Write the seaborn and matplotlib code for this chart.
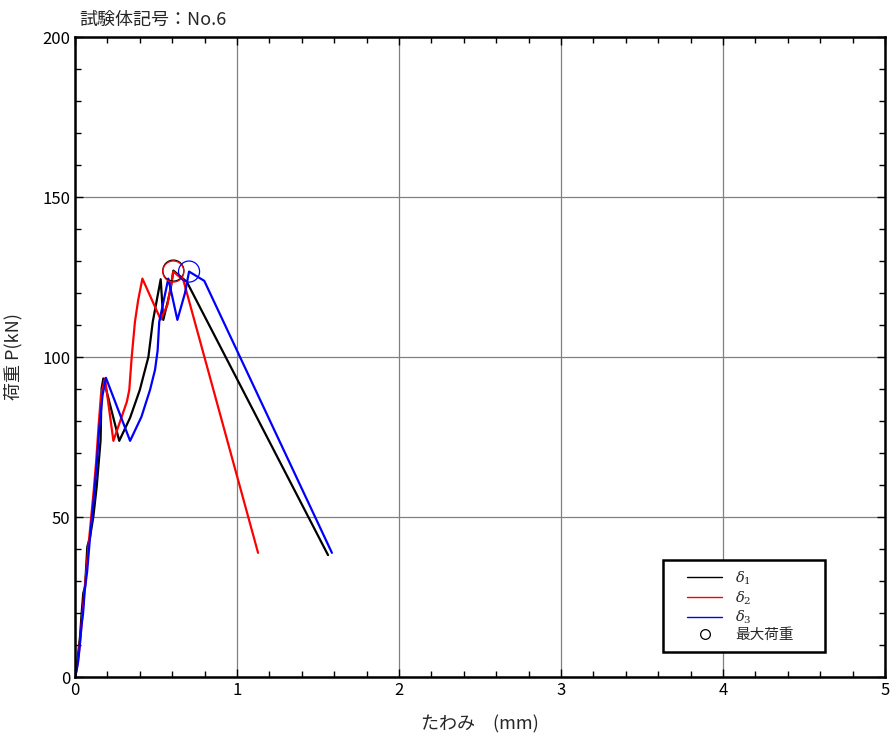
import matplotlib
matplotlib.use("Agg")
import matplotlib.pyplot as plt
from matplotlib.lines import Line2D
from matplotlib.patches import Rectangle
from matplotlib.ticker import MultipleLocator
import seaborn as sns
import pandas as pd

# ---- data ----
d1_x = [0.0, 0.01, 0.02, 0.031, 0.041, 0.051, 0.062, 0.076, 0.093, 0.113, 0.134, 0.158, 0.164, 0.175,
        0.273, 0.34, 0.40, 0.453, 0.48, 0.529, 0.545, 0.59, 0.607, 0.69, 1.562]
d1_y = [0.0, 3.2, 7.5, 12.6, 20.0, 26.2, 28.2, 40.7, 43.8, 50.0, 59.5, 74.0, 90.2, 93.3,
        73.8, 81.0, 89.7, 100.0, 111.0, 124.3, 111.6, 121.0, 127.0, 123.5, 38.1]

d2_x = [0.0, 0.012, 0.025, 0.04, 0.05, 0.06, 0.07, 0.085, 0.10, 0.115, 0.13, 0.145, 0.16, 0.185,
        0.237, 0.32, 0.335, 0.35, 0.37, 0.39, 0.416, 0.529, 0.57, 0.607, 0.669, 1.13]
d2_y = [0.0, 3.0, 8.0, 16.0, 22.0, 28.0, 33.0, 42.0, 50.0, 58.0, 67.0, 78.0, 88.0, 93.3,
        73.8, 86.0, 89.7, 100.0, 111.0, 117.8, 124.5, 111.7, 116.2, 126.7, 124.0, 38.8]

d3_x = [0.0, 0.01, 0.02, 0.03, 0.04, 0.05, 0.06, 0.075, 0.09, 0.105, 0.12, 0.135, 0.15, 0.17, 0.191,
        0.34, 0.41, 0.463, 0.494, 0.51, 0.52, 0.576, 0.632, 0.679, 0.704, 0.798, 1.586]
d3_y = [0.0, 2.0, 5.0, 10.0, 16.0, 20.0, 27.0, 33.0, 42.0, 50.0, 58.0, 67.0, 78.0, 88.0, 93.5,
        73.8, 81.3, 89.7, 96.0, 102.0, 111.0, 124.5, 111.6, 120.0, 126.7, 123.8, 38.8]

series_names = ["δ1", "δ2", "δ3"]
series_colors = ["black", "red", "blue"]
legend_labels = [r"$\delta_{1}$", r"$\delta_{2}$", r"$\delta_{3}$", "最大荷重"]
title_text = "試験体記号：No.6"
xlabel_text = "たわみ　(mm)"
ylabel_text = "荷重 P(kN)"
x_ticks = [0, 1, 2, 3, 4, 5]
y_ticks = [0, 50, 100, 150, 200]

# ---- build tables ----
frames = []
for name, xs, ys in zip(series_names, [d1_x, d2_x, d3_x], [d1_y, d2_y, d3_y]):
    frames.append(pd.DataFrame({"x": xs, "y": ys, "series": name}))
df = pd.concat(frames, ignore_index=True)
peaks = df.loc[df.groupby("series")["y"].idxmax()].reset_index(drop=True)

sns.set_theme(style="white")
plt.rcParams["font.family"] = ["Noto Sans CJK JP", "DejaVu Sans"]
plt.rcParams["mathtext.fontset"] = "dejavuserif"

fig = plt.figure(figsize=(8.91, 7.40), dpi=100)
ax = fig.add_axes([75 / 891, 63 / 740, 810 / 891, 640 / 740])

palette = dict(zip(series_names, series_colors))
sns.lineplot(data=df, x="x", y="y", hue="series", palette=palette, sort=False,
             estimator=None, units="series", linewidth=1.6, legend=False, ax=ax)

for name in series_names:
    row = peaks[peaks["series"] == name].iloc[0]
    ax.scatter([row["x"]], [row["y"]], s=230, facecolors="none",
               edgecolors=palette[name], linewidths=0.9, zorder=5)

ax.set_xlim(0, 5)
ax.set_ylim(0, 200)
ax.set_xticks(x_ticks)
ax.set_xticklabels([str(t) for t in x_ticks])
ax.set_yticks(y_ticks)
ax.set_yticklabels([str(t) for t in y_ticks])
ax.xaxis.set_minor_locator(MultipleLocator(0.2))
ax.yaxis.set_minor_locator(MultipleLocator(10))
ax.grid(True, which="major", color="#808080", linewidth=0.9)
ax.tick_params(which="both", direction="in", top=True, right=True, bottom=True, left=True,
               colors="black", labelsize=12)
ax.tick_params(which="major", length=6, width=1)
ax.tick_params(which="minor", length=4, width=1)
for sp in ax.spines.values():
    sp.set_color("black")
    sp.set_linewidth(1.8)

ax.set_xlabel(xlabel_text, fontsize=13, labelpad=12)
ax.set_ylabel(ylabel_text, fontsize=13, labelpad=14)
ax.text(0.005, 1.012, title_text, transform=ax.transAxes, fontsize=13,
        ha="left", va="bottom")

# legend box (frame drawn separately to match the reference's wide padding)
ax.add_patch(Rectangle((0.726, 0.039), 0.2, 0.144, transform=ax.transAxes,
                       facecolor="white", edgecolor="black", linewidth=1.8, zorder=6))
handles = [Line2D([0], [0], color=c, lw=1.0) for c in series_colors]
handles.append(Line2D([0], [0], marker="o", color="black", markerfacecolor="none",
                      markersize=7, linestyle="none", markeredgewidth=0.9))
leg = ax.legend(handles, legend_labels, loc="center left",
                bbox_to_anchor=(0.7556, 0.111), frameon=False,
                fontsize=10.5, handlelength=2.4, borderpad=0, labelspacing=0.15,
                handletextpad=0.9, borderaxespad=0)
leg.set_zorder(7)

fig.savefig("out.png", dpi=100)
